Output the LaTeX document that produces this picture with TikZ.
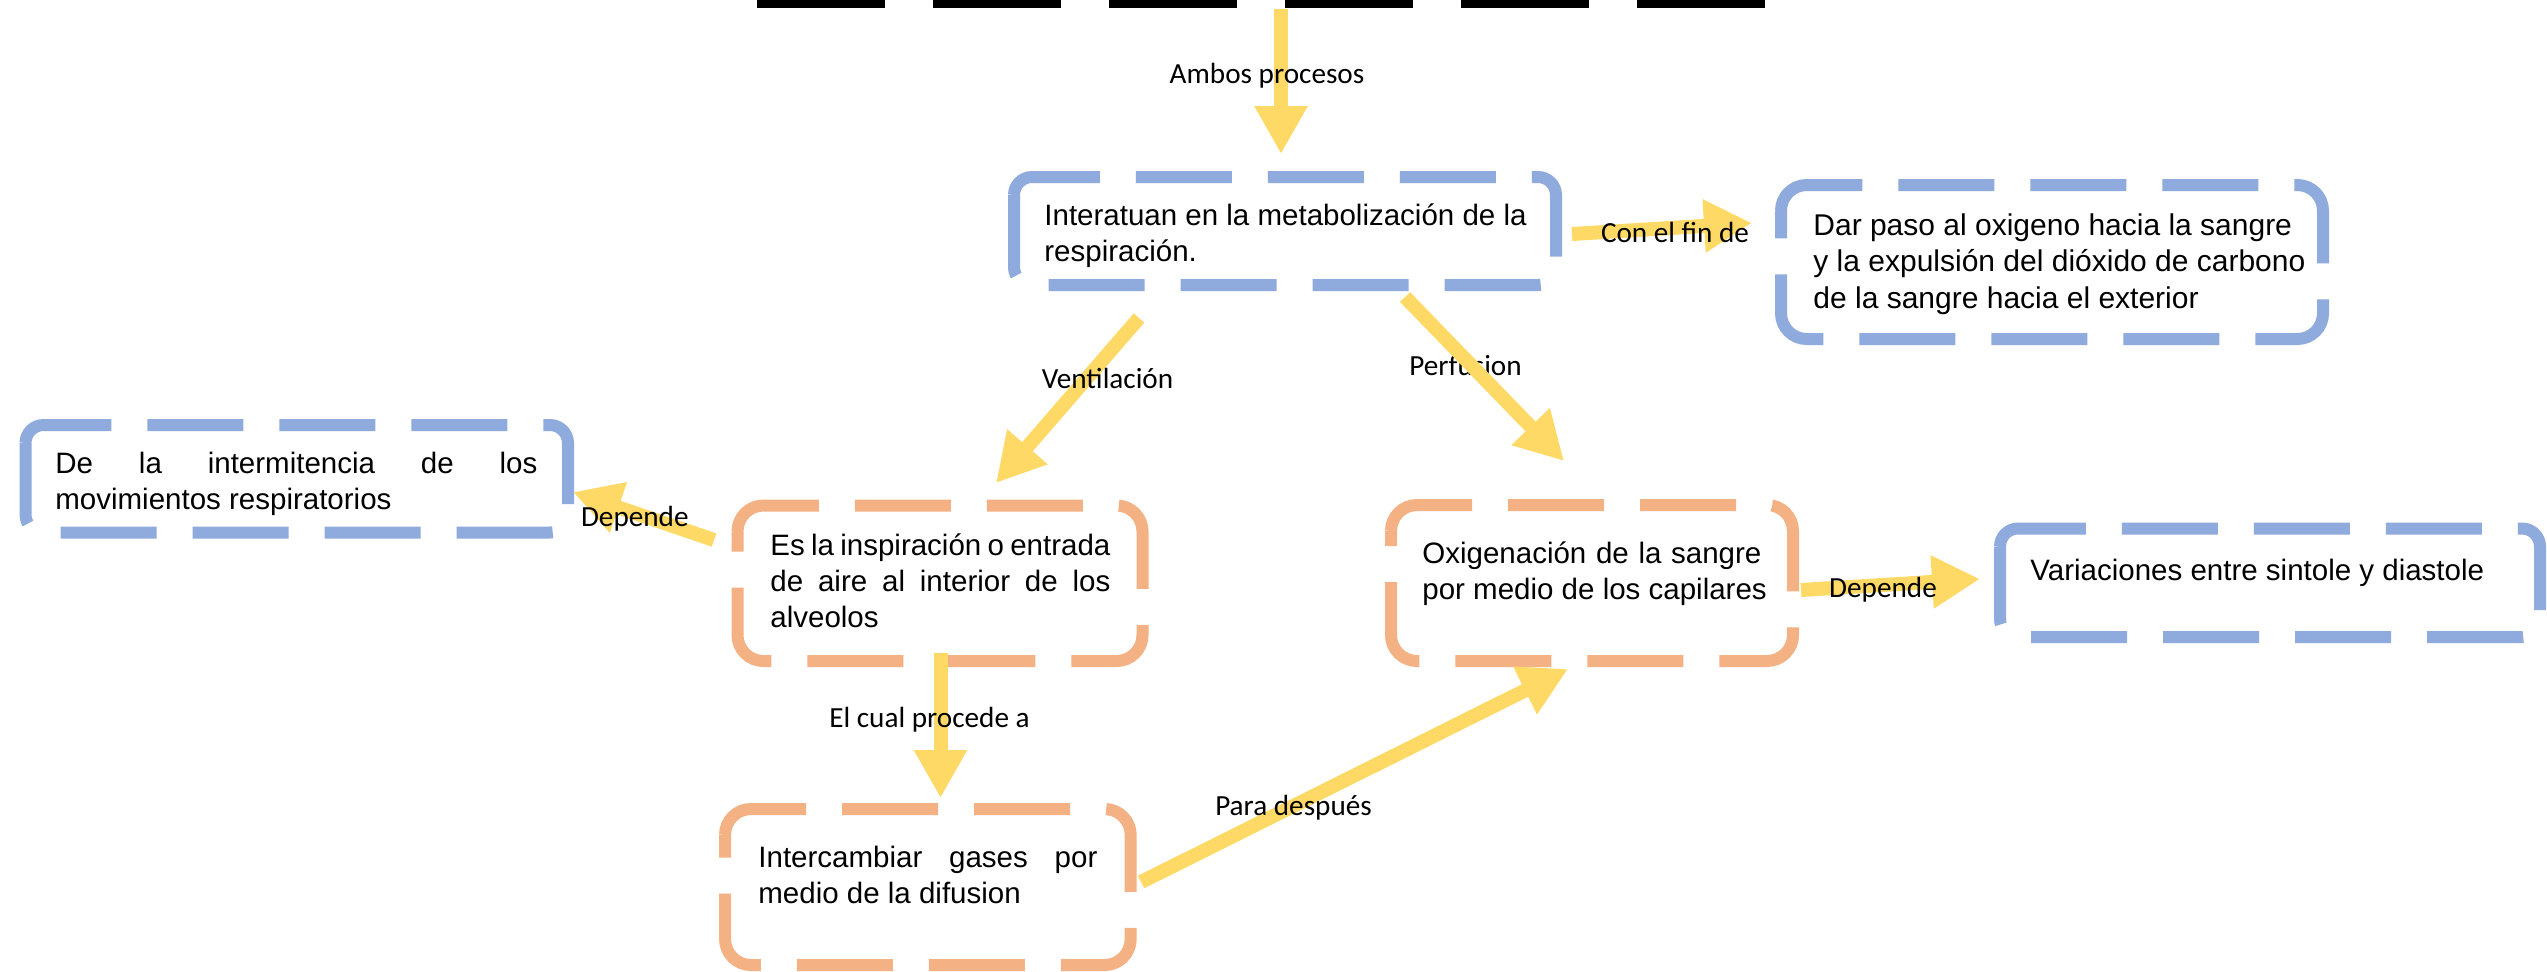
\documentclass[tikz,border=0pt]{standalone}
\usepackage{fontspec}
\setmainfont{Liberation Sans}
\newfontfamily\labelfont{Carlito}
\usetikzlibrary{arrows.meta}
\definecolor{bxblue}{HTML}{8FAADC}
\definecolor{bxorange}{HTML}{F4B183}
\definecolor{arryellow}{HTML}{FFD966}
\tikzset{
  bluebox/.style={draw=bxblue, line width=6pt, dash pattern=on 48pt off 18pt},
  orangebox/.style={draw=bxorange, line width=6pt, dash pattern=on 48pt off 18pt},
  blackdash/.style={draw=black, line width=8pt, dash pattern=on 64pt off 24pt},
  arr/.style={draw=arryellow, line width=7pt, -{Triangle[length=24pt,width=25pt]}},
  lbl/.style={font=\labelfont\fontsize{14.6pt}{17pt}\selectfont, anchor=base, inner sep=0pt},
  txt/.style={font=\fontsize{14.75pt}{18pt}\selectfont, anchor=base west, inner sep=0pt},
  txtb/.style={font=\fontsize{15pt}{18.3pt}\selectfont, anchor=base west, inner sep=0pt},
}
\newcommand\wordbox[6]{%
  \draw[#1, rounded corners=#6*0.5pt] (#2,#3+#6) -- (#2,#3) -- (#4,#3) -- (#4,#5) -- (#2,#5) -- (#2,#3+#6);}
\newcommand\jline[2]{\makebox[#1][s]{#2}}
\begin{document}
\begin{tikzpicture}[x=0.5pt,y=-0.5pt]
\useasboundingbox (0,0) rectangle (2547,971);
\clip (0,0) rectangle (2547,971);
\fill[white] (0,0) rectangle (2547,971);

% partial black box at the top
\coordinate (topR) at (1765,0);
\coordinate (topL) at (757,0);
\draw[blackdash] (topR) -- (topL);

% boxes
\wordbox{bluebox}{1014}{177}{1556}{285}{18}
\wordbox{bluebox}{1781}{185}{2323}{339}{25.7}
\wordbox{bluebox}{25.5}{425}{568}{532.5}{18}
\wordbox{orangebox}{737.5}{505.5}{1142.5}{661}{25.9}
\wordbox{orangebox}{725}{809}{1130.7}{965}{26}
\wordbox{orangebox}{1391}{505}{1793}{661}{26}
\wordbox{bluebox}{2000}{528.5}{2540}{637}{18}

% box texts
\node[txt] (tInter) at (1044,225) {\parbox[t]{600pt}{Interatuan en la metabolización de la\\respiración.}};
\node[txtb] (tDar) at (1813,235) {\parbox[t]{600pt}{Dar paso al oxigeno hacia la sangre\\y la expulsión del dióxido de carbono\\de la sangre hacia el exterior}};
\node[txt] (tDela) at (55,473) {\parbox[t]{600pt}{\jline{241pt}{De la intermitencia de los}\\movimientos respiratorios}};
\node[txt] (tEs) at (770,555) {\parbox[t]{600pt}{\jline{170pt}{Es la inspiración o entrada}\\\jline{170pt}{de aire al interior de los}\\alveolos}};
\node[txt] (tInterc) at (758,867) {\parbox[t]{600pt}{\jline{169.5pt}{Intercambiar gases por}\\medio de la difusion}};
\node[txt] (tOxi) at (1422,563) {\parbox[t]{600pt}{\jline{169.5pt}{Oxigenación de la sangre}\\por medio de los capilares}};
\node[txt] (tVar) at (2030,580) {Variaciones entre sintole y diastole};

% connector end points
\coordinate (a1s) at (1281,9);     \coordinate (a1e) at (1281,154);
\coordinate (a2s) at (1572,234);   \coordinate (a2e) at (1752,223);
\coordinate (a3s) at (1139,318);   \coordinate (a3e) at (996,483);
\coordinate (a4s) at (1405,297);   \coordinate (a4e) at (1564,461);
\coordinate (a5s) at (714,540);    \coordinate (a5e) at (573,492);
\coordinate (a6s) at (940.5,653);  \coordinate (a6e) at (940.5,798);
\coordinate (a7s) at (1141,882);   \coordinate (a7e) at (1568,669);
\coordinate (a8s) at (1801,590);   \coordinate (a8e) at (1980,579);

% label under its arrow
\node[lbl] (lPerf) at (1465.5,375.7) {Perfusion};

% arrows
\draw[arr] (a1s) -- (a1e);
\draw[arr] (a2s) -- (a2e);
\draw[arr] (a3s) -- (a3e);
\draw[arr] (a4s) -- (a4e);
\draw[arr] (a5s) -- (a5e);
\draw[arr] (a6s) -- (a6e);
\draw[arr] (a7s) -- (a7e);
\draw[arr] (a8s) -- (a8e);

% labels on top of arrows
\node[lbl] (lAmbos) at (1267,83) {Ambos procesos};
\node[lbl] (lFin) at (1675,242) {Con el fin de};
\node[lbl] (lVent) at (1107.5,388) {Ventilación};
\node[lbl] (lDep1) at (634.8,526) {Depende};
\node[lbl] (lCual) at (929.5,727) {El cual procede a};
\node[lbl] (lPara) at (1293.5,815.7) {Para después};
\node[lbl] (lDep2) at (1883,597) {Depende};
\end{tikzpicture}
\end{document}
